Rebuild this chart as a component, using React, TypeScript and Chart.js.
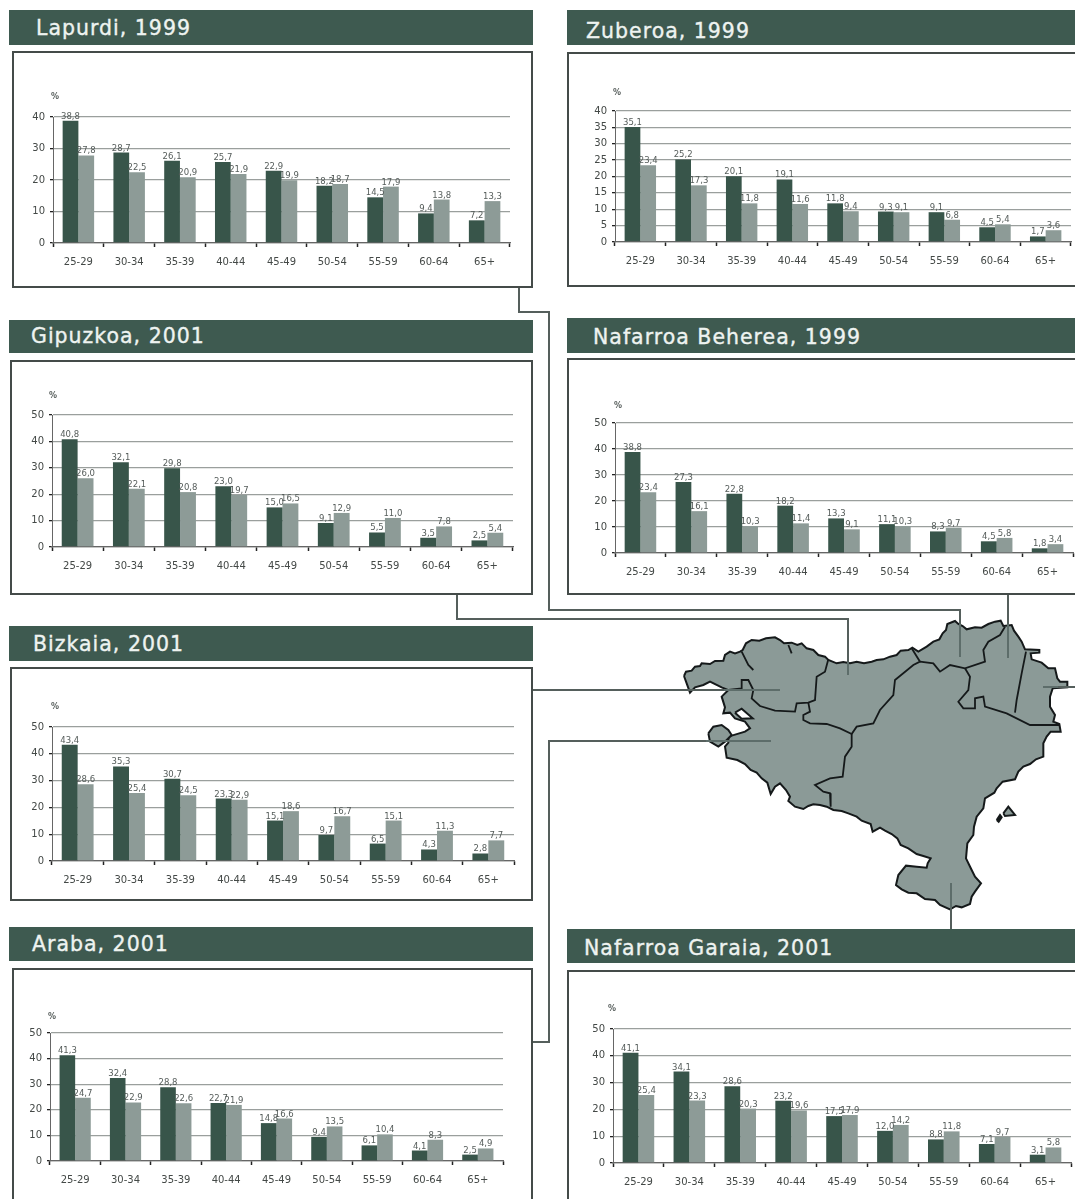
import React, { useEffect, useRef } from "react";
import { Chart, registerables } from "chart.js";
Chart.register(...registerables);

const ageGroups = ["25-29", "30-34", "35-39", "40-44", "45-49", "50-54", "55-59", "60-64", "65+"];

const lapurdiDark = [38.8, 28.7, 26.1, 25.7, 22.9, 18.2, 14.5, 9.4, 7.2];
const lapurdiLight = [27.8, 22.5, 20.9, 21.9, 19.9, 18.7, 17.9, 13.8, 13.3];
const zuberoaDark = [35.1, 25.2, 20.1, 19.1, 11.8, 9.3, 9.1, 4.5, 1.7];
const zuberoaLight = [23.4, 17.3, 11.8, 11.6, 9.4, 9.1, 6.8, 5.4, 3.6];
const gipuzkoaDark = [40.8, 32.1, 29.8, 23.0, 15.0, 9.1, 5.5, 3.5, 2.5];
const gipuzkoaLight = [26.0, 22.1, 20.8, 19.7, 16.5, 12.9, 11.0, 7.8, 5.4];
const behereaDark = [38.8, 27.3, 22.8, 18.2, 13.3, 11.1, 8.3, 4.5, 1.8];
const behereaLight = [23.4, 16.1, 10.3, 11.4, 9.1, 10.3, 9.7, 5.8, 3.4];
const bizkaiaDark = [43.4, 35.3, 30.7, 23.3, 15.1, 9.7, 6.5, 4.3, 2.8];
const bizkaiaLight = [28.6, 25.4, 24.5, 22.9, 18.6, 16.7, 15.1, 11.3, 7.7];
const arabaDark = [41.3, 32.4, 28.8, 22.7, 14.8, 9.4, 6.1, 4.1, 2.5];
const arabaLight = [24.7, 22.9, 22.6, 21.9, 16.6, 13.5, 10.4, 8.3, 4.9];
const garaiaDark = [41.1, 34.1, 28.6, 23.2, 17.5, 12.0, 8.8, 7.1, 3.1];
const garaiaLight = [25.4, 23.3, 20.3, 19.6, 17.9, 14.2, 11.8, 9.7, 5.8];

type Pt = [number, number];
const mapOutline: Pt[] = [[72,228],[78,215],[95,212],[105,200],[120,198],[125,190],[150,192],[165,183],[190,182],[195,165],[210,155],[225,160],[240,155],[248,150],[258,130],[275,120],[298,122],[318,115],[345,112],[360,120],[372,130],[395,128],[412,135],[425,130],[440,145],[460,150],[475,165],[495,170],[505,180],[530,190],[550,186],[570,190],[590,185],[612,190],[635,185],[650,180],[670,178],[690,170],[710,165],[722,152],[745,150],[757,143],[775,155],[800,140],[820,125],[838,118],[848,100],[858,90],[862,72],[885,63],[895,72],[908,78],[920,88],[945,82],[965,83],[985,72],[1005,65],[1022,62],[1030,78],[1055,75],[1062,92],[1075,110],[1085,125],[1095,148],[1138,150],[1138,158],[1112,160],[1115,178],[1145,188],[1165,205],[1185,205],[1192,235],[1200,245],[1222,245],[1222,262],[1178,265],[1170,290],[1170,320],[1185,345],[1180,365],[1198,372],[1202,395],[1172,395],[1160,410],[1150,430],[1150,470],[1128,478],[1110,492],[1090,500],[1075,515],[1065,538],[1028,545],[1010,565],[1003,578],[975,595],[970,625],[950,650],[942,680],[940,705],[922,730],[918,775],[935,810],[945,830],[963,850],[945,875],[935,890],[930,912],[905,922],[888,918],[870,928],[840,915],[825,900],[795,897],[770,880],[745,878],[725,868],[708,855],[715,825],[738,797],[770,800],[800,803],[803,790],[812,775],[790,768],[770,762],[745,745],[722,735],[712,715],[695,702],[675,692],[660,683],[638,695],[632,672],[605,662],[590,650],[565,640],[545,633],[520,630],[500,620],[480,615],[460,613],[445,618],[430,627],[405,620],[385,603],[390,590],[378,570],[360,550],[345,560],[332,582],[322,548],[305,535],[290,518],[272,510],[255,492],[232,480],[200,473],[195,440],[205,428],[205,410],[255,395],[270,385],[255,365],[225,355],[210,338],[190,340],[195,322],[185,290],[205,270],[185,262],[150,245],[130,255],[105,262],[90,278],[80,250],[72,228]];
const mapEnclave: Pt[] = [[145,400],[160,380],[185,375],[205,390],[215,405],[195,425],[175,440],[150,425],[145,400]];
const mapIsland: Pt[] = [[1030,640],[1045,620],[1065,645],[1035,648],[1030,640]];
const mapIslet: Pt[] = [[1010,660],[1020,645],[1025,652],[1016,665],[1010,660]];
const mapLake: Pt[] = [[225,338],[245,326],[278,355],[245,356],[225,338]];
const mapBorders: Pt[][] = [
  [[205,270],[245,265],[245,240],[265,240],[280,270],[275,295],[300,318],[345,332],[405,335],[410,310],[445,308],[465,300],[470,230],[495,215],[505,178]],
  [[245,155],[265,195],[280,210]],
  [[385,135],[395,160]],
  [[445,308],[450,335],[430,345],[430,360],[450,370],[500,372],[540,385],[575,402]],
  [[575,402],[590,380],[640,370],[660,330],[700,285],[705,240],[760,195],[780,185],[755,145]],
  [[575,402],[575,440],[555,470],[548,530],[510,535],[465,555],[490,575],[510,580],[512,620]],
  [[780,185],[820,190],[840,215],[870,195],[915,205],[975,185],[970,150],[985,125],[1020,105],[1035,80]],
  [[915,205],[930,230],[925,270],[895,305],[910,325],[945,325],[945,295],[970,290],[975,320],[1040,340],[1110,375],[1170,375],[1198,375]],
  [[1098,155],[1085,220],[1070,300],[1065,338]],
];
const connectors: Pt[][] = [
  [[519,288],[519,312],[549,312],[549,610],[960,610],[960,624]],
  [[457,595],[457,619],[848,619],[848,662]],
  [[1008,595],[1008,624]],
  [[533,690],[724,690]],
  [[533,1042],[549,1042],[549,741],[706,741]],
  [[951,908],[951,929]],
  [[1058,687],[1075,687]],
];
const connectorsOverMap: Pt[][] = [
  [[960,624],[960,657]],
  [[848,662],[848,675]],
  [[1008,624],[1008,658]],
  [[724,690],[780,690]],
  [[706,741],[771,741]],
  [[951,883],[951,908]],
  [[1043,687],[1058,687]],
];

const DARK = "#38554a";
const LIGHT = "#8d9b97";
const FONT = "'DejaVu Sans'";

type Panel = {
  title: string; dark: number[]; light: number[]; max: number; step: number;
  head: [number, number, number, number]; frame: [number, number, number, number];
  titleAt: [number, number]; plot: [number, number, number, number]; pct: [number, number];
};
const panels: Panel[] = [
  { title: "Lapurdi, 1999", dark: lapurdiDark, light: lapurdiLight, max: 40, step: 10, head: [9, 10, 533, 45], frame: [12, 51, 533, 288], titleAt: [36, 28], plot: [53, 510, 117, 243], pct: [55, 97] },
  { title: "Zuberoa, 1999", dark: zuberoaDark, light: zuberoaLight, max: 40, step: 5, head: [567, 10, 1080, 45], frame: [567, 52, 1085, 287], titleAt: [586, 31], plot: [615, 1071, 111, 242], pct: [617, 93] },
  { title: "Gipuzkoa, 2001", dark: gipuzkoaDark, light: gipuzkoaLight, max: 50, step: 10, head: [9, 320, 533, 353], frame: [10, 360, 533, 595], titleAt: [31, 336], plot: [52, 513, 415, 547], pct: [53, 396] },
  { title: "Nafarroa Beherea, 1999", dark: behereaDark, light: behereaLight, max: 50, step: 10, head: [567, 318, 1080, 353], frame: [567, 358, 1085, 595], titleAt: [593, 337], plot: [615, 1073, 423, 553], pct: [618, 406] },
  { title: "Bizkaia, 2001", dark: bizkaiaDark, light: bizkaiaLight, max: 50, step: 10, head: [9, 626, 533, 661], frame: [10, 667, 533, 901], titleAt: [33, 644], plot: [52, 514, 727, 861], pct: [55, 707] },
  { title: "Araba, 2001", dark: arabaDark, light: arabaLight, max: 50, step: 10, head: [9, 927, 533, 961], frame: [12, 968, 533, 1210], titleAt: [32, 944], plot: [50, 503, 1033, 1161], pct: [52, 1017] },
  { title: "Nafarroa Garaia, 2001", dark: garaiaDark, light: garaiaLight, max: 50, step: 10, head: [567, 929, 1080, 963], frame: [567, 970, 1085, 1210], titleAt: [584, 948], plot: [613, 1071, 1029, 1163], pct: [612, 1009] },
];

const mapPts = (p: Pt[]) => p.map(([x, y]) => ({ x: 660 + x / 3, y: 600 + y / 3 }));
const pagePts = (p: Pt[]) => p.map(([x, y]) => ({ x, y }));

function Backdrop() {
  const ref = useRef<HTMLCanvasElement>(null);
  useEffect(() => {
    const INK = "#15191a";
    const poly = (pts: Pt[]) => ({ data: mapPts(pts), showLine: true, pointRadius: 0, borderColor: INK, borderWidth: 2, backgroundColor: "#8b9a97", fill: "shape" as const });
    const chart = new Chart(ref.current!, {
      type: "scatter",
      data: {
        datasets: [
          ...connectorsOverMap.map((c) => ({ data: pagePts(c), showLine: true, pointRadius: 0, borderColor: "#5d6d6a", borderWidth: 2, fill: false, order: 0 })),
          ...connectors.map((c) => ({ data: pagePts(c), showLine: true, pointRadius: 0, borderColor: "#555f5c", borderWidth: 2, fill: false, order: 0 })),
          ...mapBorders.map((b) => ({ data: mapPts(b), showLine: true, pointRadius: 0, borderColor: INK, borderWidth: 1.8, fill: false, order: 1 })),
          { ...poly(mapLake), backgroundColor: "#ffffff", order: 1 },
          { ...poly(mapEnclave), order: 2 },
          { ...poly(mapIsland), order: 2 },
          { ...poly(mapIslet), backgroundColor: INK, order: 2 },
          { ...poly(mapOutline), order: 3 },
        ],
      },
      options: {
        responsive: false, animation: false, layout: { padding: 0 },
        plugins: { legend: { display: false }, tooltip: { enabled: false } },
        scales: {
          x: { type: "linear", min: 0, max: 1075, display: false },
          y: { type: "linear", min: 0, max: 1199, reverse: true, display: false },
        },
      },
    });
    return () => chart.destroy();
  }, []);
  return <canvas ref={ref} width={1075} height={1199} style={{ position: "absolute", left: 0, top: 0, display: "block" }} />;
}

function BarPanel({ p }: { p: Panel }) {
  const ref = useRef<HTMLCanvasElement>(null);
  const [l, r, t, b] = p.plot;
  const ML = 45, MT = 32, MR = 3, MB = 30;
  useEffect(() => {
    const valueLabels = {
      id: "valueLabels",
      afterDatasetsDraw(c: any) {
        const g = c.ctx;
        g.save();
        g.font = `8.5px ${FONT}`;
        g.fillStyle = "#555c5a";
        g.textAlign = "center";
        g.textBaseline = "alphabetic";
        c.data.datasets.forEach((ds: any, i: number) => {
          c.getDatasetMeta(i).data.forEach((bar: any, j: number) => {
            g.fillText(ds.data[j].toFixed(1).replace(".", ","), bar.x, bar.y - 2);
          });
        });
        g.font = `bold 8px ${FONT}`;
        g.textAlign = "center";
        g.textBaseline = "middle";
        g.fillText("%", p.pct[0] - l + ML, p.pct[1] - t + MT);
        g.restore();
      },
    };
    const chart = new Chart(ref.current!, {
      type: "bar",
      data: {
        labels: ageGroups,
        datasets: [
          { data: p.dark, backgroundColor: DARK, categoryPercentage: 0.62, barPercentage: 1 },
          { data: p.light, backgroundColor: LIGHT, categoryPercentage: 0.62, barPercentage: 1 },
        ],
      },
      options: {
        responsive: false, animation: false,
        layout: { padding: { left: 0, top: MT, right: MR, bottom: 0 } },
        plugins: { legend: { display: false }, tooltip: { enabled: false } },
        scales: {
          x: {
            afterFit: (s: any) => { s.height = MB; },
            grid: { drawOnChartArea: false, drawTicks: true, tickLength: 4, tickColor: "#222", tickWidth: 1.5 },
            border: { color: "#666", width: 1.3 },
            ticks: { color: "#444947", font: { family: "DejaVu Sans", size: 10 }, padding: 9, maxRotation: 0, autoSkip: false },
          },
          y: {
            min: 0, max: p.max,
            afterFit: (s: any) => { s.width = ML; },
            grid: { color: "#9a9f9d", lineWidth: 1.3, tickLength: 3, tickColor: "#222" },
            border: { color: "#666", width: 1 },
            ticks: { stepSize: p.step, color: "#444947", font: { family: "DejaVu Sans", size: 10 }, padding: 5 },
          },
        },
      },
      plugins: [valueLabels],
    });
    return () => chart.destroy();
  }, []);
  const [fx0, fy0, fx1, fy1] = p.frame;
  const [hx0, hy0, hx1, hy1] = p.head;
  return (
    <>
      <div style={{ position: "absolute", left: hx0, top: hy0, width: hx1 - hx0, height: hy1 - hy0, overflow: "hidden", background: "#3e5a50", color: "#eef3f0", font: `20.5px ${FONT}`, letterSpacing: "1px", WebkitTextStroke: "0.35px #eef3f0", lineHeight: `${2 * (p.titleAt[1] - hy0)}px`, whiteSpace: "nowrap", boxSizing: "border-box", paddingLeft: p.titleAt[0] - hx0 }}>{p.title}</div>
      <div style={{ position: "absolute", left: fx0, top: fy0, width: fx1 - fx0, height: fy1 - fy0, background: "#fff", border: "2px solid #444b49", boxSizing: "border-box" }} />
      <canvas ref={ref} width={r - l + ML + MR} height={b - t + MT + MB} style={{ position: "absolute", left: l - ML, top: t - MT, display: "block" }} />
    </>
  );
}

export default function App() {
  return (
    <>
      <style>{`html,body{margin:0;padding:0;background:#fff;overflow:hidden}`}</style>
      <div style={{ position: "absolute", left: 0, top: 0, width: 1075, height: 1199, overflow: "hidden", background: "#fff", filter: "blur(0.45px)" }}>
        <Backdrop />
        {panels.map((p) => <BarPanel key={p.title} p={p} />)}
      </div>
    </>
  );
}
